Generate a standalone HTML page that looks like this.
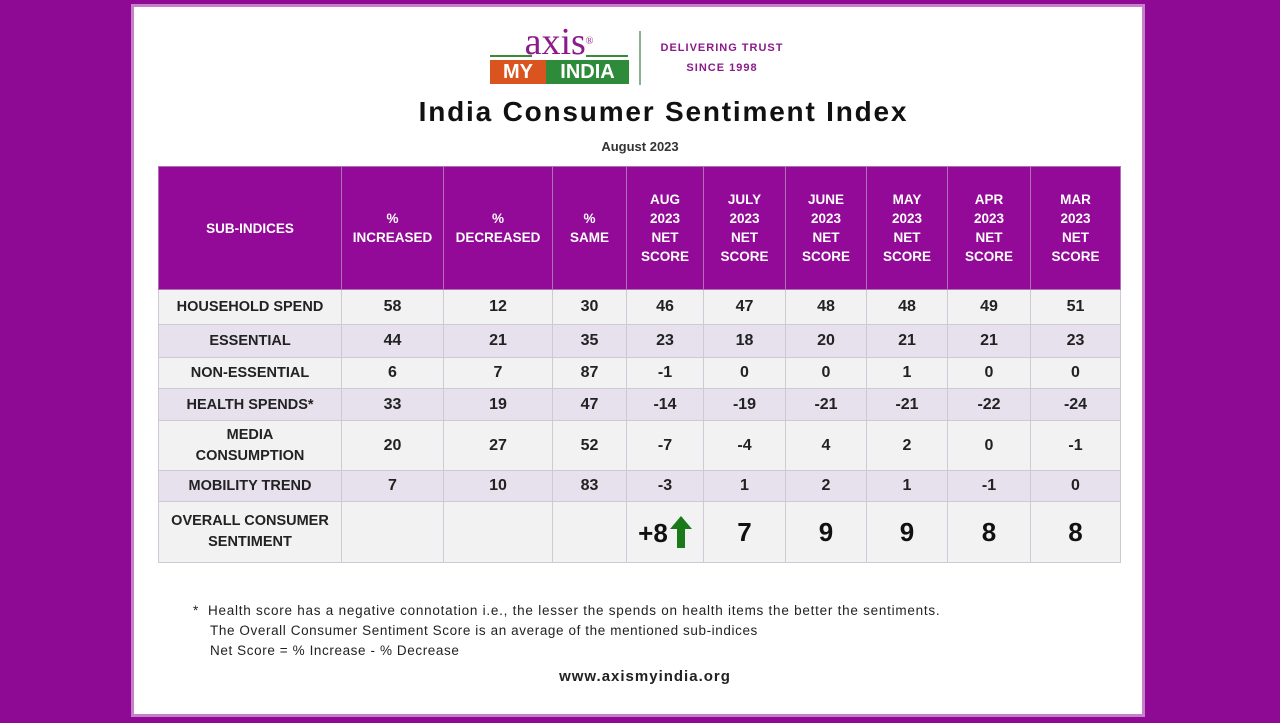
<!DOCTYPE html>
<html><head><style>
body{margin:0;width:1280px;height:723px;background:#8e0a95;position:relative;overflow:hidden;font-family:"Liberation Sans",sans-serif}
.panel{position:absolute;left:131px;top:4px;width:1014px;height:713px;background:#fff;border:3px solid #c77fcb;box-sizing:border-box}
.abs{position:absolute}
table{position:absolute;left:158px;top:166px;border-collapse:collapse;table-layout:fixed}
td{border:1px solid #d0c8d4;text-align:center;font-weight:bold;color:#222;padding:0;font-size:16px}
thead td{background:#930a98;color:#fff;font-size:13.5px;line-height:19px;height:122px;border-color:#b070b5}
tr.l td{background:#f2f2f2}tr.d td{background:#e6e1ed}
td.n{font-size:14.5px}
</style></head><body>
<div class="panel"></div>
<div class="abs" style="left:489px;top:22px;width:140px;text-align:center;font-family:'Liberation Serif',serif;font-size:38px;color:#8b1a8b;line-height:40px">axis<span style="font-size:10px;vertical-align:top">®</span></div>
<div class="abs" style="left:490px;top:55px;width:42px;height:2px;background:#3a8a3a"></div>
<div class="abs" style="left:586px;top:55px;width:42px;height:2px;background:#3a8a3a"></div>
<div class="abs" style="left:490px;top:60px;width:56px;height:24px;background:#d9541e;color:#fff;font-weight:bold;font-size:20px;line-height:24px;text-align:center">MY</div>
<div class="abs" style="left:546px;top:60px;width:83px;height:24px;background:#2e8b3a;color:#fff;font-weight:bold;font-size:20px;line-height:24px;text-align:center">INDIA</div>
<div class="abs" style="left:639px;top:31px;width:2px;height:54px;background:#8bb08b"></div>
<div class="abs" style="left:648px;top:38px;width:148px;text-align:center;color:#8b1a8b;font-weight:bold;font-size:11px;line-height:20px;letter-spacing:1px">DELIVERING TRUST<br>SINCE 1998</div>
<div class="abs" style="left:300px;top:96px;width:727px;text-align:center;font-size:28px;font-weight:bold;color:#111;letter-spacing:1.8px">India Consumer Sentiment Index</div>
<div class="abs" style="left:540px;top:139px;width:200px;text-align:center;font-size:13px;font-weight:bold;color:#333">August 2023</div>
<table>
<colgroup><col style="width:183px"><col style="width:102px"><col style="width:109px"><col style="width:74px"><col style="width:77px"><col style="width:82px"><col style="width:81px"><col style="width:81px"><col style="width:83px"><col style="width:90px"></colgroup>
<thead><tr><td>SUB-INDICES</td><td>%<br>INCREASED</td><td>%<br>DECREASED</td><td>%<br>SAME</td><td>AUG<br>2023<br>NET<br>SCORE</td><td>JULY<br>2023<br>NET<br>SCORE</td><td>JUNE<br>2023<br>NET<br>SCORE</td><td>MAY<br>2023<br>NET<br>SCORE</td><td>APR<br>2023<br>NET<br>SCORE</td><td>MAR<br>2023<br>NET<br>SCORE</td></tr></thead>
<tr class="l" style="height:35px"><td class="n">HOUSEHOLD SPEND</td><td>58</td><td>12</td><td>30</td><td>46</td><td>47</td><td>48</td><td>48</td><td>49</td><td>51</td></tr>
<tr class="d" style="height:33px"><td class="n">ESSENTIAL</td><td>44</td><td>21</td><td>35</td><td>23</td><td>18</td><td>20</td><td>21</td><td>21</td><td>23</td></tr>
<tr class="l" style="height:31px"><td class="n">NON-ESSENTIAL</td><td>6</td><td>7</td><td>87</td><td>-1</td><td>0</td><td>0</td><td>1</td><td>0</td><td>0</td></tr>
<tr class="d" style="height:32px"><td class="n">HEALTH SPENDS*</td><td>33</td><td>19</td><td>47</td><td>-14</td><td>-19</td><td>-21</td><td>-21</td><td>-22</td><td>-24</td></tr>
<tr class="l" style="height:50px"><td class="n" style="line-height:21px">MEDIA<br>CONSUMPTION</td><td>20</td><td>27</td><td>52</td><td>-7</td><td>-4</td><td>4</td><td>2</td><td>0</td><td>-1</td></tr>
<tr class="d" style="height:31px"><td class="n">MOBILITY TREND</td><td>7</td><td>10</td><td>83</td><td>-3</td><td>1</td><td>2</td><td>1</td><td>-1</td><td>0</td></tr>
<tr class="l" style="height:61px"><td class="n" style="line-height:21px">OVERALL CONSUMER<br>SENTIMENT</td><td></td><td></td><td></td><td style="font-size:26px;color:#111">+8<svg width="22" height="32" viewBox="0 0 22 32" style="vertical-align:-6px;margin-left:2px"><polygon points="11,0 22,13 15,13 15,32 7,32 7,13 0,13" fill="#1a7a1a"/></svg></td><td style="font-size:26px;color:#111">7</td><td style="font-size:26px;color:#111">9</td><td style="font-size:26px;color:#111">9</td><td style="font-size:26px;color:#111">8</td><td style="font-size:26px;color:#111">8</td></tr>
</table>
<div class="abs" style="left:193px;top:601px;font-size:13.5px;color:#222;line-height:20px;letter-spacing:0.75px;white-space:nowrap">*&nbsp; Health score has a negative connotation i.e., the lesser the spends on health items the better the sentiments.</div>
<div class="abs" style="left:210px;top:621px;font-size:13.5px;color:#222;line-height:20px;letter-spacing:0.6px;white-space:nowrap">The Overall Consumer Sentiment Score is an average of the mentioned sub-indices<br>Net Score = % Increase - % Decrease</div>
<div class="abs" style="left:540px;top:668px;width:210px;text-align:center;font-size:15px;font-weight:bold;color:#222;letter-spacing:1px">www.axismyindia.org</div>
</body></html>
